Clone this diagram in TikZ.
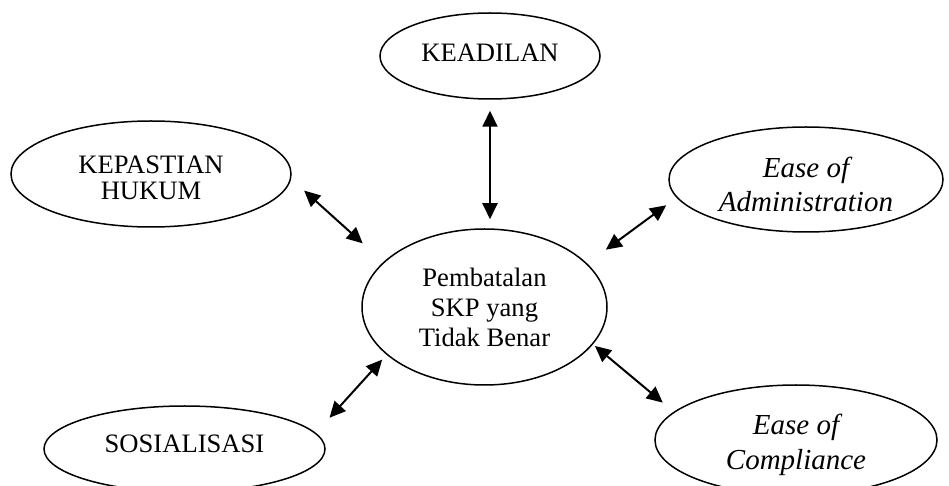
\documentclass[tikz,border=0pt]{standalone}
\usepackage{fontspec}
\setmainfont{Liberation Serif}
\usetikzlibrary{shapes.geometric,arrows.meta}

\begin{document}
\begin{tikzpicture}[x=0.5pt,y=-0.5pt,
	bubble/.style={draw, ellipse, line width=0.75pt, inner sep=0pt, align=center, font=\fontsize{13.3}{15}\selectfont},
	slanted/.style={font=\fontsize{14.5}{17}\selectfont\itshape},
	link/.style={{Triangle[length=8pt,width=7.5pt]}-{Triangle[length=8pt,width=7.5pt]}, line width=1pt}]
	\useasboundingbox (0,0) rectangle (949,486);
	\node[bubble, minimum width=110pt, minimum height=43pt, text height=8.8pt, text depth=3pt] (keadilan) at (490,56) {KEADILAN};
	\node[bubble, minimum width=140pt, minimum height=53pt, font=\fontsize{13.3}{13}\selectfont, text height=25.8pt, text depth=0pt] (kepastian) at (151,174) {KEPASTIAN\\HUKUM};
	\node[bubble, slanted, minimum width=137pt, minimum height=52.5pt, text height=32.1pt, text depth=0pt] (admin) at (806,179.5) {Ease of\\Administration};
	\node[bubble, minimum width=122.5pt, minimum height=78pt] (skp) at (484.5,307) {Pembatalan\\SKP yang\\Tidak Benar};
	\node[bubble, minimum width=140.5pt, minimum height=43pt, text height=8.8pt, text depth=5pt] (sosialisasi) at (184.5,449) {SOSIALISASI};
	\node[bubble, slanted, minimum width=141pt, minimum height=55pt, font=\fontsize{14.5}{17.5}\selectfont\itshape, text height=29.6pt, text depth=0pt] (compliance) at (796,440) {Ease of\\Compliance};
	\draw[link, shorten <=5.5pt, shorten >=4.5pt]  (keadilan.south) -- (keadilan.south |- skp.north);
	\draw[link, shorten <=8.75pt, shorten >=13.9pt] (kepastian.-2.6) -- (skp.156.9);
	\draw[link, shorten <=6.4pt, shorten >=11.6pt]  (admin.188) -- (skp.23.1);
	\draw[link, shorten <=10.2pt, shorten >=3.25pt] (sosialisasi.7.8) -- (skp.206.8);
	\draw[link, shorten <=7.15pt, shorten >=1.25pt] (compliance.167.7) -- (skp.-19.8);
\end{tikzpicture}
\end{document}
